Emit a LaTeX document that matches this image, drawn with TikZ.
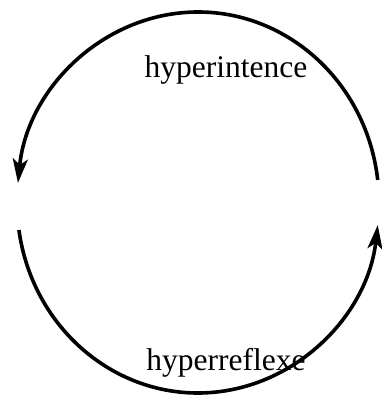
\documentclass[tikz,border=0pt]{standalone}
\usepackage{fontspec}
\setmainfont{Liberation Serif}
\usetikzlibrary{arrows.meta, calc}

\begin{document}
\begin{tikzpicture}[
        x=1pt, y=1pt,
        % Estilos
        cyclearc/.style={line width=3.6pt, -{Stealth[length=24pt, width=15pt, inset=6pt]}},
        cyclelabel/.style={anchor=base, inner sep=0pt, font=\fontsize{31.5}{36}\selectfont}
    ]
    \useasboundingbox (0,0) rectangle (381,397);

    % Pontos das extremidades
    \coordinate (topstart) at ($(198,194.5)+(6.8:181 and 190.5)$);
    \coordinate (botstart) at ($(198,194.5)+(188.3:181 and 190.5)$);

    % Rotulos
    \node (inten) [cyclelabel] at (226,319) {hyperintence};
    \node (reflex) [cyclelabel] at (226,27) {hyperreflexe};

    % Arcos
    \draw [cyclearc] (topstart) arc[start angle=6.8, end angle=174.1, x radius=181, y radius=190.5];
    \draw [cyclearc] (botstart) arc[start angle=188.3, end angle=353.2, x radius=181, y radius=190.5];

\end{tikzpicture}
\end{document}
